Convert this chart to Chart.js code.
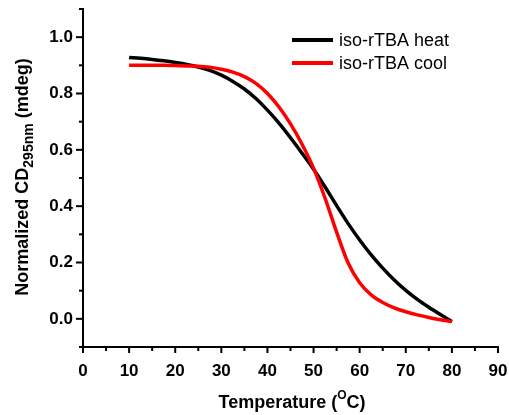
<!DOCTYPE html>
<html>
<head>
<meta charset="utf-8">
<script src="https://cdn.jsdelivr.net/npm/chart.js@4"></script>
<style>
html,body{margin:0;padding:0;background:#fff;}
#c{display:block;}
</style>
</head>
<body>
<canvas id="c" width="509" height="415"></canvas>
<script>
// Temperatures (°C)
const temps = [10,12.5,15,17.5,20,22.5,25,27.5,30,32.5,35,37.5,40,42.5,45,47.5,50,52.5,55,57.5,60,62.5,65,67.5,70,72.5,75,77.5,80];
// iso-rTBA heat
const heat = [0.928,0.925,0.921,0.916,0.910,0.903,0.894,0.882,0.865,0.843,0.816,0.782,0.741,0.695,0.643,0.588,0.531,0.468,0.402,0.338,0.280,0.227,0.180,0.138,0.101,0.069,0.041,0.015,-0.010];
// iso-rTBA cool
const cool = [0.900,0.900,0.900,0.900,0.899,0.898,0.897,0.893,0.886,0.876,0.860,0.836,0.800,0.752,0.692,0.620,0.535,0.428,0.308,0.198,0.128,0.085,0.058,0.039,0.025,0.014,0.005,-0.003,-0.010];
const seriesNames = ['iso-rTBA heat','iso-rTBA cool'];
const seriesColors = ['#000000','#ff0000'];
const xTickMajor = [0,10,20,30,40,50,60,70,80,90];
const yTickMajor = [0.0,0.2,0.4,0.6,0.8,1.0];

const FONT = "'Liberation Sans', Arial, sans-serif";

const decor = {
  id:'decor',
  afterDraw(chart){
    const ctx = chart.ctx;
    const xs = chart.scales.x, ys = chart.scales.y;
    const ca = chart.chartArea;
    ctx.save();
    ctx.strokeStyle = '#000';
    ctx.lineWidth = 2;
    ctx.lineCap = 'butt';
    xs.ticks.forEach(t => {
      const px = xs.getPixelForValue(t.value);
      const major = xTickMajor.some(v => Math.abs(v - t.value) < 1e-6);
      const len = major ? 6 : 4;
      ctx.beginPath();
      ctx.moveTo(px, ca.bottom);
      ctx.lineTo(px, ca.bottom + len);
      ctx.stroke();
    });
    ys.ticks.forEach(t => {
      const py = ys.getPixelForValue(t.value);
      const major = yTickMajor.some(v => Math.abs(v - t.value) < 1e-6);
      const len = major ? 7 : 4;
      ctx.beginPath();
      ctx.moveTo(ca.left, py);
      ctx.lineTo(ca.left - len, py);
      ctx.stroke();
    });

    ctx.fillStyle = '#000';
    const big = 'bold 18px ' + FONT, small = 'bold 12px ' + FONT;
    ctx.font = big;
    const p1 = 'Temperature (', p3 = 'C)';
    const w1 = ctx.measureText(p1).width, w3 = ctx.measureText(p3).width;
    ctx.font = small;
    const w2 = ctx.measureText('O').width;
    let x0 = 292 - (w1 + w2 + w3) / 2;
    ctx.textBaseline = 'alphabetic';
    ctx.textAlign = 'left';
    ctx.font = big; ctx.fillText(p1, x0, 408);
    ctx.font = small; ctx.fillText('O', x0 + w1, 399);
    ctx.font = big; ctx.fillText(p3, x0 + w1 + w2, 408);

    const s1 = 'Normalized CD', s2 = '295nm', s3 = ' (mdeg)';
    const subF = 'bold 14px ' + FONT;
    ctx.font = big;
    const a1 = ctx.measureText(s1).width, a3 = ctx.measureText(s3).width;
    ctx.font = subF;
    const a2 = ctx.measureText(s2).width;
    const tot = a1 + a2 + a3;
    ctx.translate(27.5, 177);
    ctx.rotate(-Math.PI/2);
    let sx = -tot/2;
    ctx.font = big; ctx.fillText(s1, sx, 0);
    ctx.font = subF; ctx.fillText(s2, sx + a1, 5);
    ctx.font = big; ctx.fillText(s3, sx + a1 + a2, 0);
    ctx.restore();

    ctx.save();
    const ly = [40, 63];
    chart.data.datasets.forEach((ds, i) => {
      ctx.strokeStyle = ds.borderColor;
      ctx.lineWidth = 4;
      ctx.beginPath();
      ctx.moveTo(292, ly[i]);
      ctx.lineTo(333, ly[i]);
      ctx.stroke();
      ctx.fillStyle = '#000';
      ctx.font = '18px ' + FONT;
      ctx.textBaseline = 'middle';
      ctx.textAlign = 'left';
      ctx.fillText(ds.label, 339, ly[i] + 1);
    });
    ctx.restore();
  }
};

new Chart(document.getElementById('c'), {
  type: 'line',
  data: {
    datasets: [
      { label: seriesNames[0], data: temps.map((t,i)=>({x:t,y:heat[i]})), borderColor: seriesColors[0], borderWidth: 3.5, pointRadius: 0, cubicInterpolationMode: 'monotone', fill:false, order: 2 },
      { label: seriesNames[1], data: temps.map((t,i)=>({x:t,y:cool[i]})), borderColor: seriesColors[1], borderWidth: 3.5, pointRadius: 0, cubicInterpolationMode: 'monotone', fill:false, order: 1 }
    ]
  },
  options: {
    responsive: false,
    animation: false,
    devicePixelRatio: 1,
    layout: { padding: { top: 9, right: 11, left: 0, bottom: 0 } },
    plugins: { legend: { display: false }, tooltip: { enabled: false } },
    scales: {
      x: {
        type: 'linear', min: 0, max: 90,
        grid: { display: false, drawTicks: false },
        border: { display: true, color: '#000', width: 2 },
        ticks: {
          stepSize: 5, autoSkip: false, maxRotation: 0, padding: 14, color: '#000',
          font: { family: FONT, size: 17, weight: 'bold' },
          callback: v => (Math.abs(v % 10) < 1e-6 ? String(Math.round(v)) : '')
        },
        afterFit: s => { s.height = 68; s.paddingLeft = 0; s.paddingRight = 0; }
      },
      y: {
        type: 'linear', min: -0.1, max: 1.1,
        grid: { display: false, drawTicks: false },
        border: { display: true, color: '#000', width: 2 },
        ticks: {
          stepSize: 0.1, autoSkip: false, padding: 10, color: '#000',
          font: { family: FONT, size: 17, weight: 'bold' },
          callback: v => { const k = Math.round(v*10); return (k >= 0 && k <= 10 && k % 2 === 0) ? (k/10).toFixed(1) : ''; }
        },
        afterFit: s => { s.width = 83; s.paddingTop = 0; s.paddingBottom = 0; }
      }
    }
  },
  plugins: [decor]
});
</script>
</body>
</html>
